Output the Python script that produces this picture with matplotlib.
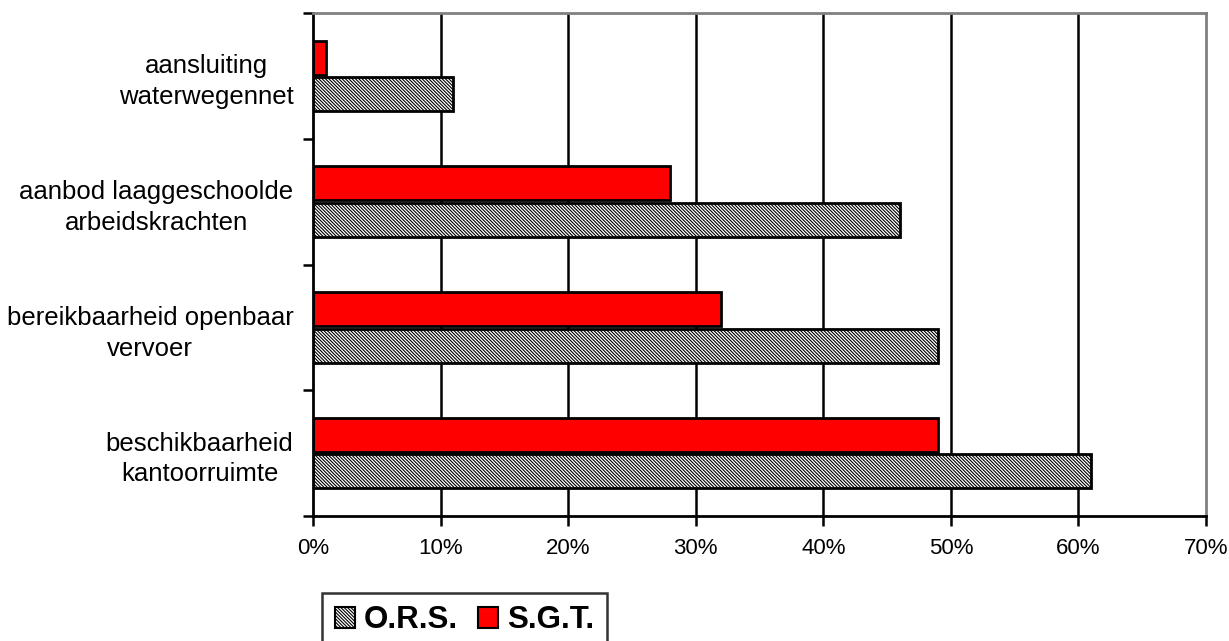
import matplotlib
matplotlib.use("Agg")
import matplotlib.pyplot as plt
import numpy as np
from matplotlib.patches import Patch

categories = ["beschikbaarheid\nkantoorruimte",
              "bereikbaarheid openbaar\nvervoer",
              "aanbod laaggeschoolde\narbeidskrachten",
              "aansluiting\nwaterwegennet"]
ors = [61, 49, 46, 11]
sgt = [49, 32, 28, 1]
xticks = [0, 10, 20, 30, 40, 50, 60, 70]
xticklabels = ["0%", "10%", "20%", "30%", "40%", "50%", "60%", "70%"]

plt.rcParams['font.family'] = ['Liberation Sans', 'DejaVu Sans']
plt.rcParams['hatch.color'] = '#5a5a5a'
plt.rcParams['hatch.linewidth'] = 0.8

fig = plt.figure(figsize=(12.29, 6.41), dpi=100)
ax = fig.add_axes([313/1229, 1-516/641, (1206-313)/1229, (516-13)/641])

y = np.arange(len(categories))
h = 0.27
ax.set_axisbelow(True)
for xv in xticks[1:-1]:
    ax.axvline(xv, color='black', lw=1.8, zorder=0)
ax.barh(y + 0.145, sgt, height=h, color='#ff0000', edgecolor='black', linewidth=2, zorder=2)
ax.barh(y - 0.145, ors, height=h, color='white', edgecolor='black', linewidth=2,
        hatch='\\\\\\\\\\\\\\\\\\\\', zorder=2)

ax.set_xlim(0, 70)
ax.set_ylim(-0.5, 3.5)
ax.set_xticks(xticks)
ax.set_xticklabels(xticklabels, fontsize=16)
ax.set_yticks(y)
ax.set_yticklabels(categories, fontsize=18.5, ha='right', multialignment='center',
                   linespacing=1.35)
ax.tick_params(axis='y', length=0, pad=14)
ax.set_yticks(np.arange(-0.5, 4.0, 1.0), minor=True)
ax.tick_params(axis='y', which='minor', length=7, width=1.8, direction='out')
ax.tick_params(axis='x', length=7, width=1.8, direction='out', pad=9)

for s in ['left', 'bottom']:
    ax.spines[s].set_color('black')
    ax.spines[s].set_linewidth(2)
for s in ['top', 'right']:
    ax.spines[s].set_color('#808080')
    ax.spines[s].set_linewidth(2)

handles = [Patch(facecolor='white', edgecolor='black', hatch='\\\\\\\\\\\\\\\\\\\\', linewidth=1.5, label='O.R.S.'),
           Patch(facecolor='#ff0000', edgecolor='black', linewidth=1.5, label='S.G.T.')]
leg = fig.legend(handles=handles, loc='upper left', bbox_to_anchor=(322/1229, 1-593/641),
                 ncol=2, prop={'weight': 'bold', 'size': 22.5}, frameon=True, fancybox=False,
                 handlelength=0.65, handleheight=0.65, handletextpad=0.28, columnspacing=0.65,
                 borderpad=0.4, borderaxespad=0, edgecolor='black')
leg.get_frame().set_linewidth(1.8)

fig.savefig('out.png', dpi=100)
